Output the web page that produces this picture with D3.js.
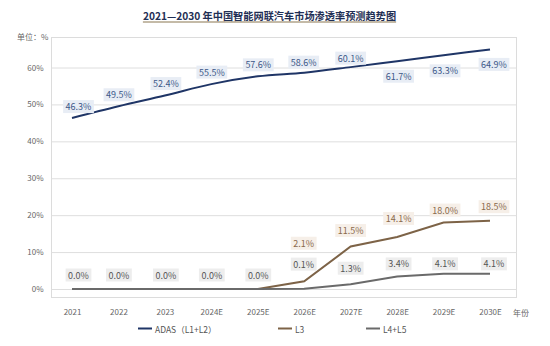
<!DOCTYPE html>
<html>
<head>
<meta charset="utf-8">
<script src="https://cdn.jsdelivr.net/npm/d3@7"></script>
<style>
  html, body { margin: 0; padding: 0; background: #fff; }
  svg { display: block; font-family: "Noto Sans CJK SC", "Noto Sans", sans-serif; }
</style>
</head>
<body>
<svg id="chart" width="550" height="346"></svg>
<script>
// ---- data ----
const years = ["2021", "2022", "2023", "2024E", "2025E", "2026E", "2027E", "2028E", "2029E", "2030E"];
const adas = [46.3, 49.5, 52.4, 55.5, 57.6, 58.6, 60.1, 61.7, 63.3, 64.9];
const l3 = [0, 0, 0, 0, 0, 2.1, 11.5, 14.1, 18.0, 18.5];
const l4l5 = [0, 0, 0, 0, 0, 0.1, 1.3, 3.4, 4.1, 4.1];
const yTicks = [0, 10, 20, 30, 40, 50, 60];
const seriesNames = ["ADAS（L1+L2）", "L3", "L4+L5"];
const titleText = "2021—2030 年中国智能网联汽车市场渗透率预测趋势图";

// ---- layout (label placement, not data) ----
const adasLabelDy = [-11.5, -11.5, -12, -12, -11.5, -10.5, -9, 15, 15.5, 15];
const l3LabelDy = [null, null, null, null, null, -38, -16, -18.5, -12.5, -14];
const l4LabelDy = [-14, -14, -14, -14, -14, -24.5, -16, -12.5, -10, -10];
const labelDx = [6.5, 0.5, 1, 0.5, 0.5, -0.5, 0, 1.5, 1.5, 4];

const svg = d3.select("#chart");
const x = d3.scalePoint().domain(years).range([72, 490]);
const y = d3.scaleLinear().domain([0, 60]).range([289, 67.5]);

const frame = { left: 51.5, right: 516.5, top: 37.5, bottom: 297.5 };

// title
const title = svg.append("text")
  .attr("x", 269.5).attr("y", 20)
  .attr("text-anchor", "middle")
  .attr("font-size", 10.2).attr("font-weight", "bold")
  .attr("fill", "#1f2f55")
  .text(titleText);
const tb = title.node().getBBox();
svg.append("line")
  .attr("x1", tb.x).attr("x2", tb.x + tb.width)
  .attr("y1", 22).attr("y2", 22)
  .attr("stroke", "#8a7650").attr("stroke-width", 1);

// unit
svg.append("text").attr("x", 17).attr("y", 40)
  .attr("font-size", 8).attr("fill", "#666").text("单位：%");

// frame
svg.append("rect")
  .attr("x", frame.left).attr("y", frame.top)
  .attr("width", frame.right - frame.left).attr("height", frame.bottom - frame.top)
  .attr("fill", "none").attr("stroke", "#dcdcdc").attr("stroke-width", 1);

// grid + y axis
const yAxis = d3.axisLeft(y).tickValues(yTicks).tickSize(-(frame.right - frame.left)).tickFormat(d => d + "%");
const gy = svg.append("g").attr("transform", `translate(${frame.left},0)`).call(yAxis);
gy.select(".domain").remove();
gy.selectAll(".tick line").attr("stroke", "#dedede").attr("stroke-width", 1);
gy.selectAll(".tick text").attr("x", -8).attr("font-size", 8).attr("fill", "#666")
  .attr("font-family", "\"Noto Sans CJK SC\", sans-serif");

// x axis
const xAxis = d3.axisBottom(x).tickSize(0);
const gx = svg.append("g").attr("transform", `translate(0,308)`).call(xAxis);
gx.select(".domain").remove();
gx.selectAll(".tick text").attr("font-size", 8).attr("fill", "#666").attr("dy", "0.5em")
  .attr("font-family", "\"Noto Sans CJK SC\", sans-serif");
svg.append("text").attr("x", 513).attr("y", 315.5)
  .attr("font-size", 8).attr("fill", "#666").text("年份");

// lines
const colors = ["#1f3566", "#7d6347", "#6a6a6a"];
const series = [adas, l3, l4l5];
const line = d3.line().x((d, i) => x(years[i])).y(d => y(d));
[0, 1, 2].forEach(k => {
  svg.append("path").datum(series[k])
    .attr("d", line.curve(k === 0 ? d3.curveMonotoneX : d3.curveLinear))
    .attr("fill", "none").attr("stroke", colors[k]).attr("stroke-width", 2);
});

// labels
const labelStyles = [
  { fill: "#3c5888", bg: "#e8edf5", dy: adasLabelDy },
  { fill: "#8a6a4c", bg: "#f6efe8", dy: l3LabelDy },
  { fill: "#555555", bg: "#ededed", dy: l4LabelDy }
];
[0, 1, 2].forEach(k => {
  const st = labelStyles[k];
  series[k].forEach((v, i) => {
    if (st.dy[i] === null) return;
    const cx = x(years[i]) + labelDx[i];
    const cy = y(v) + st.dy[i];
    const g = svg.append("g");
    const t = g.append("text")
      .attr("x", cx).attr("y", cy)
      .attr("text-anchor", "middle").attr("dominant-baseline", "central")
      .attr("font-size", 9).attr("fill", st.fill)
      .text(v.toFixed(1) + "%");
    const b = t.node().getBBox();
    g.insert("rect", "text")
      .attr("x", b.x - 2.5).attr("y", cy - 6.5)
      .attr("width", b.width + 5).attr("height", 13)
      .attr("fill", st.bg);
  });
});

// legend
const legendX = [138, 278, 366];
seriesNames.forEach((name, k) => {
  svg.append("line")
    .attr("x1", legendX[k]).attr("x2", legendX[k] + 14)
    .attr("y1", 328.5).attr("y2", 328.5)
    .attr("stroke", colors[k]).attr("stroke-width", 2);
  svg.append("text")
    .attr("x", legendX[k] + 17).attr("y", 328.5)
    .attr("dominant-baseline", "central")
    .attr("font-size", 8.5).attr("fill", "#555").text(name);
});
</script>
</body>
</html>
